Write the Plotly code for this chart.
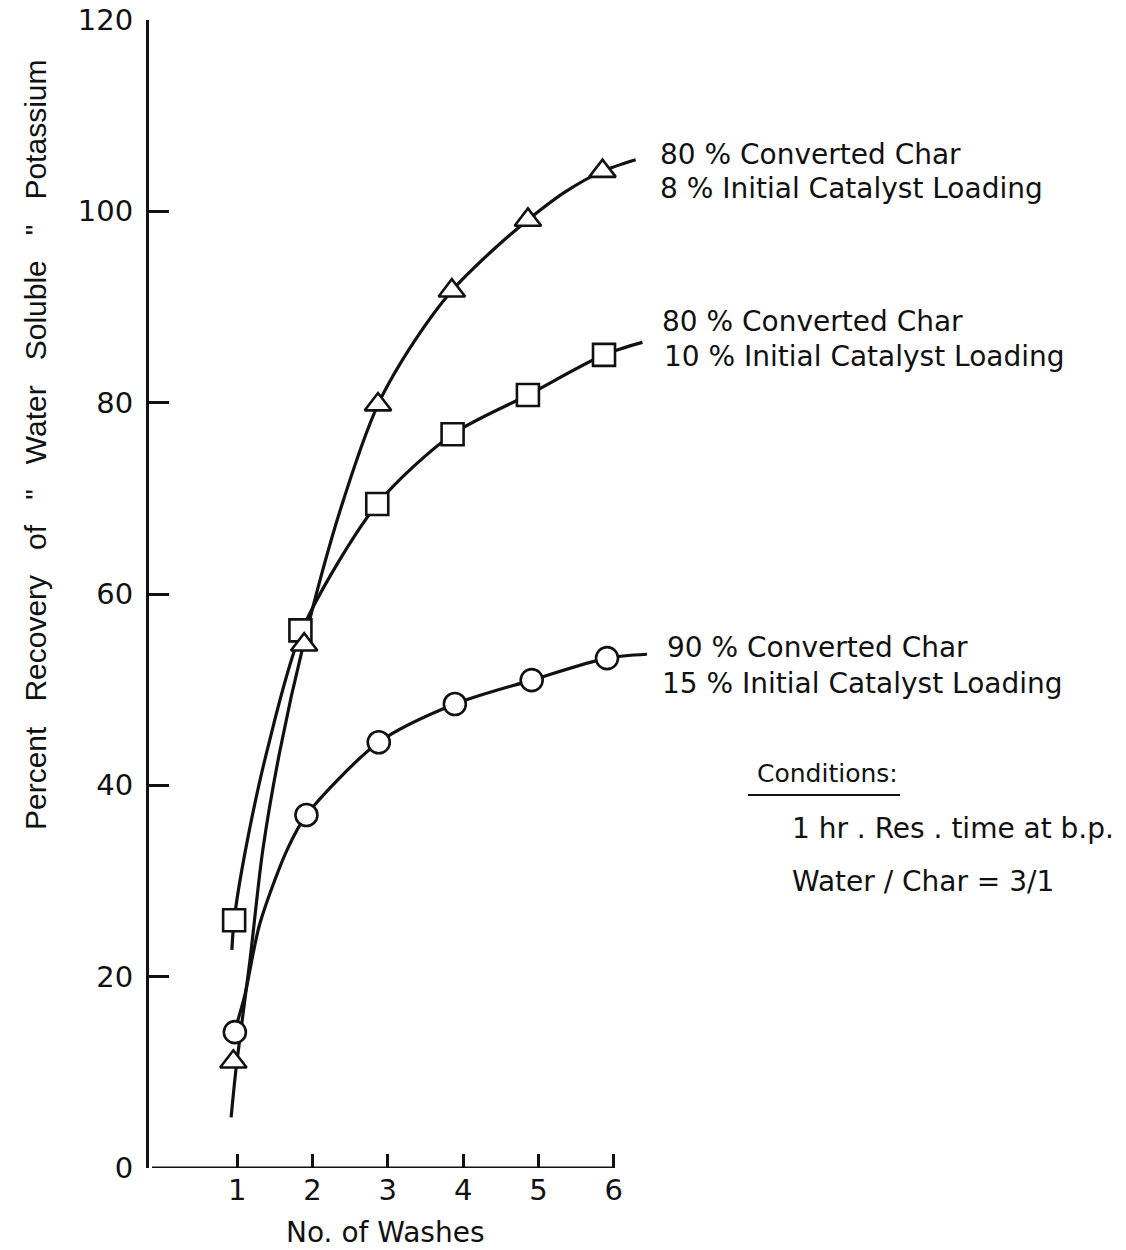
import plotly.graph_objects as go

# ---------------- data ----------------
# measured points (marker positions, slightly left of the integer ticks as drawn)
tri_x = [0.95, 1.89, 2.87, 3.85, 4.86, 5.85]
tri_y = [11.1, 54.7, 79.8, 91.7, 99.1, 104.2]

sq_x = [0.96, 1.84, 2.86, 3.86, 4.86, 5.87]
sq_y = [25.9, 56.2, 69.4, 76.7, 80.8, 85.0]

circ_x = [0.97, 1.92, 2.88, 3.89, 4.91, 5.91]
circ_y = [14.2, 36.9, 44.5, 48.5, 51.0, 53.3]

# hand-drawn fitted curves
tri_curve_x = [0.92, 0.99, 1.17, 1.34, 1.57, 1.88, 2.37, 2.87, 3.36, 3.85, 4.36, 4.86, 5.35, 5.85, 6.29]
tri_curve_y = [5.3, 10.7, 21.7, 33.2, 43.7, 54.7, 68.8, 79.8, 86.5, 91.7, 95.7, 99.1, 102.0, 104.2, 105.4]

sq_curve_x = [0.93, 0.96, 1.11, 1.40, 1.86, 2.86, 3.86, 4.86, 5.87, 6.38]
sq_curve_y = [22.8, 25.9, 33.2, 43.7, 56.2, 69.4, 76.7, 80.8, 85.0, 86.3]

circ_curve_x = [0.97, 1.10, 1.30, 1.66, 1.92, 2.88, 3.89, 4.91, 5.91, 6.44]
circ_curve_y = [14.4, 18.0, 25.5, 33.2, 36.9, 44.5, 48.5, 51.0, 53.3, 53.7]

x_ticks = [1, 2, 3, 4, 5, 6]
y_ticks = [0, 20, 40, 60, 80, 100, 120]

labels = [
    ("80 % Converted Char", "8 % Initial Catalyst Loading"),
    ("80 % Converted Char", "10 % Initial Catalyst Loading"),
    ("90 % Converted Char", "15 % Initial Catalyst Loading"),
]
cond_title = "Conditions:"
cond_lines = ["1 hr . Res . time at b.p.", "Water / Char = 3/1"]
x_title = "No. of Washes"
NB = "\u00a0" * 3
y_title = ("Percent" + NB + "Recovery" + NB + "of" + NB + "\"" + NB + "Water" + NB
           + "Soluble" + NB + "\"" + NB + "Potassium")

# ---------------- geometry ----------------
W, H = 1126, 1250
L, R, T, B = 149, 659, 20, 1168   # plot area in pixels
X_RANGE = [-0.17, 6.6]
Y_RANGE = [0, 120]


def px(xp):
    return (xp - L) / (R - L)


def py(yp):
    return (B - yp) / (B - T)


BLACK = "#111111"
LINE_W = 3.2
label_font = dict(family="'DejaVu Sans', sans-serif", size=28, color=BLACK)
tick_font = dict(family="'DejaVu Sans', sans-serif", size=29, color=BLACK)

fig = go.Figure()

curves = [(tri_curve_x, tri_curve_y), (sq_curve_x, sq_curve_y), (circ_curve_x, circ_curve_y)]
for cx, cy in curves:
    fig.add_trace(go.Scatter(x=cx, y=cy, mode="lines",
                             line=dict(color=BLACK, width=LINE_W, shape="spline", smoothing=0.8),
                             hoverinfo="skip", showlegend=False))

markers = [(sq_x, sq_y, "square", 22), (circ_x, circ_y, "circle", 22), (tri_x, tri_y, "triangle-up", 23)]
for mx, my, sym, sz in markers:
    fig.add_trace(go.Scatter(x=mx, y=my, mode="markers",
                             marker=dict(symbol=sym, size=sz, color="white",
                                         line=dict(color=BLACK, width=2.6)),
                             showlegend=False, cliponaxis=False))

# x axis line only up to 6
fig.add_shape(type="line", xref="x", yref="y", x0=X_RANGE[0] + 0.04, x1=6, y0=0, y1=0,
              line=dict(color=BLACK, width=LINE_W))

# series labels
label_pos = [
    ((658, 155), (658, 188)),
    ((660, 322), (662, 356)),
    ((665, 647), (660, 683)),
]
for (l1, l2), ((x1, y1), (x2, y2)) in zip(labels, label_pos):
    fig.add_annotation(text=l1, xref="paper", yref="paper", x=px(x1), y=py(y1),
                       xanchor="left", yanchor="middle", showarrow=False, font=label_font)
    fig.add_annotation(text=l2, xref="paper", yref="paper", x=px(x2), y=py(y2),
                       xanchor="left", yanchor="middle", showarrow=False, font=label_font)

fig.add_annotation(text=cond_title, xref="paper", yref="paper", x=px(755), y=py(773),
                   xanchor="left", yanchor="middle", showarrow=False,
                   font=dict(family="'DejaVu Sans', sans-serif", size=25, color=BLACK))
fig.add_shape(type="line", xref="paper", yref="paper", x0=px(748), x1=px(900),
              y0=py(795), y1=py(795), line=dict(color=BLACK, width=2))
for txt, yy in zip(cond_lines, [829, 881]):
    fig.add_annotation(text=txt, xref="paper", yref="paper", x=px(790), y=py(yy),
                       xanchor="left", yanchor="middle", showarrow=False, font=label_font)

# axis titles
fig.add_annotation(text=x_title, xref="paper", yref="paper", x=px(385), y=py(1232),
                   xanchor="center", yanchor="middle", showarrow=False,
                   font=dict(family="'DejaVu Sans', sans-serif", size=28, color=BLACK))
fig.add_annotation(text=y_title, xref="paper", yref="paper", x=px(35), y=py(445),
                   xanchor="center", yanchor="middle", textangle=-90, showarrow=False,
                   font=dict(family="'Liberation Sans', Arial, sans-serif", size=30, color=BLACK))

fig.update_xaxes(range=X_RANGE, tickvals=x_ticks, ticktext=[str(v) for v in x_ticks],
                 ticks="inside", ticklen=14, tickwidth=3, tickcolor=BLACK,
                 showline=False, showgrid=False, zeroline=False, automargin=False,
                 tickfont=tick_font, ticklabelstandoff=2)
fig.update_yaxes(range=Y_RANGE, tickvals=y_ticks, ticktext=[str(v) for v in y_ticks],
                 ticks="inside", ticklen=20, tickwidth=3, tickcolor=BLACK,
                 showline=True, linecolor=BLACK, linewidth=LINE_W, automargin=False,
                 showgrid=False, zeroline=False, tickfont=tick_font, ticklabelstandoff=7)

fig.update_layout(width=W, height=H, margin=dict(l=L, r=W - R, t=T, b=H - B),
                  plot_bgcolor="white", paper_bgcolor="white", showlegend=False)

fig.write_html("out.html")
